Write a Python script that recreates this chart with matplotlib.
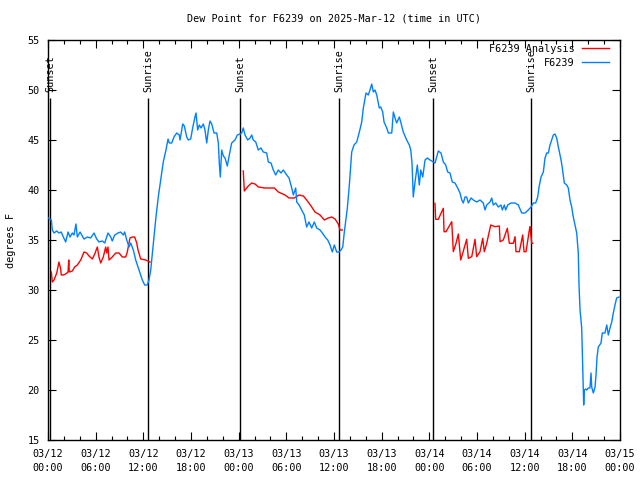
import numpy as np
import matplotlib
matplotlib.use("Agg")
import matplotlib.pyplot as plt
from matplotlib.ticker import MultipleLocator

# hours since 2025-03-12 00:00 UTC
blue_t = [0.00,0.42,0.54,0.76,1.10,1.38,1.67,1.93,2.23,2.52,2.77,3.06,3.27,3.52,3.69,4.03,4.32,4.53,4.95,5.37,
          5.79,6.13,6.42,6.84,7.14,7.55,7.89,8.09,8.40,8.81,9.15,9.48,9.65,9.91,10.20,10.41,10.74,11.04,11.45,11.87,
          12.17,12.50,12.71,12.93,13.30,13.59,13.88,14.19,14.51,14.85,15.11,15.27,15.57,15.86,16.20,16.53,16.62,16.96,17.16,17.46,
          17.66,17.96,18.21,18.50,18.63,18.84,19.05,19.26,19.55,19.76,19.98,20.18,20.39,20.61,20.90,21.24,21.44,21.56,21.69,21.86,
          22.07,22.28,22.57,22.82,23.12,23.54,23.83,24.17,24.38,24.58,24.80,25.14,25.43,25.64,25.84,26.15,26.47,26.81,27.10,27.53,
          27.73,28.07,28.36,28.66,28.99,29.33,29.62,30.05,30.34,30.68,30.88,31.18,31.31,31.60,31.93,32.26,32.56,32.85,33.19,33.52,
          33.82,34.24,34.53,34.87,35.21,35.50,35.79,36.04,36.34,36.63,36.88,37.10,37.30,37.68,37.93,38.23,38.52,38.86,39.19,39.49,
          39.69,40.03,40.32,40.53,40.75,40.95,41.16,41.38,41.70,41.88,42.13,42.30,42.64,42.84,43.27,43.47,43.68,43.89,44.22,44.40,
          44.72,45.15,45.48,45.66,45.82,45.98,46.20,46.49,46.74,46.92,47.17,47.46,47.75,48.09,48.50,48.72,48.93,49.13,49.47,49.76,
          50.06,50.31,50.60,50.89,51.23,51.57,51.86,52.08,52.28,52.49,52.70,52.91,53.25,53.54,53.96,54.38,54.79,55.01,55.22,55.64,
          55.85,56.05,56.36,56.68,57.02,57.19,57.44,57.61,57.87,58.28,58.79,59.20,59.63,60.04,60.46,60.80,61.09,61.39,61.64,61.81,
          62.06,62.35,62.56,62.78,62.98,63.19,63.40,63.61,63.82,64.03,64.24,64.58,64.74,64.99,65.29,65.49,65.71,65.92,66.12,66.34,
          66.55,66.75,66.84,66.97,67.18,67.26,67.38,67.43,67.51,67.68,67.81,68.01,68.22,68.35,68.44,68.64,68.86,68.98,69.11,69.27,
          69.61,69.77,70.11,70.33,70.53,70.74,70.96,71.16,71.37,71.58,71.87]
blue_v = [37.2,37.0,36.0,35.7,35.9,35.7,35.8,35.3,34.8,35.8,35.3,35.7,35.5,36.6,35.3,35.8,35.4,35.1,35.3,35.2,
          35.7,35.1,34.8,34.9,34.7,35.7,35.3,34.9,35.5,35.7,35.8,35.5,35.8,35.0,34.3,34.7,34.0,33.0,32.0,31.0,
          30.5,30.5,31.0,32.0,35.0,37.3,39.3,41.0,42.8,44.0,45.1,44.7,44.7,45.3,45.7,45.5,45.0,46.6,46.4,45.3,
          45.0,45.1,46.2,47.3,47.7,46.0,46.5,46.2,46.6,46.0,44.7,46.0,46.9,46.6,45.7,45.7,44.7,42.7,41.3,44.0,
          43.4,43.2,42.4,43.5,44.7,45.0,45.5,45.6,45.7,46.2,45.5,45.0,45.2,45.5,45.0,44.8,44.0,44.2,43.8,43.7,
          42.8,42.7,42.0,41.5,42.0,41.7,42.0,41.5,41.2,40.2,39.5,40.2,38.8,38.5,38.0,37.5,36.3,36.8,36.2,36.8,
          36.2,36.0,35.7,35.3,35.0,34.5,33.8,34.5,33.8,33.8,34.0,34.3,35.8,38.2,40.5,43.8,44.5,44.8,45.8,46.8,
          48.2,49.7,49.5,50.0,50.6,49.8,50.0,49.5,48.2,48.3,47.8,46.8,46.2,45.7,45.7,47.8,47.2,46.7,47.3,46.8,
          45.8,45.0,44.5,44.0,42.7,39.3,40.8,42.5,40.5,42.0,41.3,43.0,43.2,43.0,42.8,42.7,43.3,43.9,43.7,42.8,
          42.5,41.8,41.7,40.8,40.7,40.2,39.7,39.0,38.7,39.3,39.3,38.7,39.2,39.0,38.8,39.0,38.7,38.0,38.5,38.8,
          39.2,38.5,38.7,38.3,38.5,38.0,38.5,38.0,38.5,38.7,38.7,38.5,37.7,37.7,38.0,38.3,38.7,38.7,39.3,40.3,
          41.3,41.8,43.2,43.7,43.7,44.5,45.0,45.5,45.6,45.2,44.3,43.0,42.2,40.7,40.5,40.2,39.0,38.3,37.3,36.5,
          35.7,33.7,30.5,28.0,26.2,23.7,20.3,18.5,20.0,20.1,20.0,20.2,20.2,21.7,20.3,19.7,20.3,21.5,23.3,24.3,
          24.7,25.7,25.7,26.5,25.5,26.2,26.8,27.7,28.5,29.2,29.3]

red_t1 = [0.42,0.54,0.76,1.10,1.38,1.60,1.67,1.93,2.23,2.52,2.61,2.68,3.06,3.36,3.69,4.12,4.53,4.87,5.16,5.58,
          5.88,6.21,6.42,6.63,6.96,7.26,7.39,7.55,7.68,8.09,8.52,8.94,9.35,9.78,9.98,10.32,10.61,10.91,11.17,11.33,
          11.67,12.30,12.84]
red_v1 = [31.8,30.8,31.0,31.7,32.8,32.1,31.5,31.5,31.6,31.8,33.0,31.8,31.9,32.3,32.5,33.0,33.8,33.7,33.4,33.1,
          33.6,34.3,33.3,32.7,33.3,34.3,33.7,34.3,33.0,33.3,33.7,33.7,33.3,33.3,33.8,35.2,35.3,35.3,34.7,34.0,
          33.1,33.0,32.8]
red_t2 = [24.58,24.71,25.21,25.64,26.06,26.47,27.32,28.49,28.99,29.83,30.34,31.00,31.60,32.14,32.56,33.11,33.61,34.24,
          34.78,35.28,35.71,36.13,36.54,36.76,37.04]
red_v2 = [41.9,39.9,40.4,40.7,40.6,40.3,40.2,40.2,39.8,39.5,39.2,39.2,39.5,39.4,39.0,38.4,37.8,37.5,
          37.0,37.2,37.3,37.1,36.6,36.0,36.0]
red_t3 = [48.71,48.80,49.13,49.76,49.85,50.10,50.82,51.02,51.36,51.65,51.95,52.20,52.70,52.91,53.34,53.75,53.96,54.38,
          54.72,54.92,55.22,55.73,56.27,56.81,56.90,57.31,57.82,58.07,58.57,58.79,58.91,59.33,59.75,59.92,60.17,60.59,
          60.67,60.89,61.01]
red_v3 = [38.67,37.07,37.07,38.17,35.83,35.83,36.83,33.83,34.67,35.6,33.0,33.67,35.07,33.17,33.33,35.07,33.33,33.83,
          35.17,33.83,34.67,36.5,36.33,36.4,34.83,35.0,36.17,34.67,34.67,35.33,33.83,33.83,35.5,33.83,33.83,36.0,
          36.33,34.67,34.67]

sun_t = [0.25, 12.59, 24.17, 36.63, 48.46, 60.80]
sun_lbl = ["Sunset", "Sunrise", "Sunset", "Sunrise", "Sunset", "Sunrise"]

xtick_pos = [0, 6, 12, 18, 24, 30, 36, 42, 48, 54, 60, 66, 72]
xtick_lbl = ["03/12\n00:00", "03/12\n06:00", "03/12\n12:00", "03/12\n18:00",
             "03/13\n00:00", "03/13\n06:00", "03/13\n12:00", "03/13\n18:00",
             "03/14\n00:00", "03/14\n06:00", "03/14\n12:00", "03/14\n18:00",
             "03/15\n00:00"]

FS = 7.3
plt.rcParams['font.family'] = ['DejaVu Sans Mono']
plt.rcParams['font.size'] = FS

fig = plt.figure(figsize=(6.4, 4.8), dpi=100)
ax = fig.add_axes([48/640, 1-440/480, 572/640, 400/480])

RED = '#ff0000'
BLUE = '#0080ff'

for t, l in zip(sun_t, sun_lbl):
    ax.vlines(t, 15, 49.2, color='black', lw=1.0, zorder=1)
    ax.text(t + 0.1, 49.75, l, rotation=90, ha='center', va='bottom', fontsize=FS)

for rt, rv in ((red_t1, red_v1), (red_t2, red_v2), (red_t3, red_v3)):
    ax.plot(rt, rv, color=RED, lw=1.0, zorder=2)
ax.plot([], [], color=RED, lw=1.0, label='F6239 Analysis')
ax.plot(blue_t, blue_v, color=BLUE, lw=1.0, zorder=3, label='F6239')

ax.set_xlim(0, 72)
ax.set_ylim(15, 55)
ax.set_xticks(xtick_pos)
ax.set_xticklabels(xtick_lbl, linespacing=1.45)
ax.xaxis.set_minor_locator(MultipleLocator(2))
ax.yaxis.set_major_locator(MultipleLocator(5))
ax.tick_params(which='major', direction='in', length=6, width=0.8, top=True, right=True, pad=6.5)
ax.tick_params(which='minor', direction='in', length=3, width=0.8, top=True, right=True)
ax.tick_params(axis='y', pad=6)
for s in ax.spines.values():
    s.set_linewidth(1.0)

ax.set_title('Dew Point for F6239 on 2025-Mar-12 (time in UTC)', fontsize=FS, pad=13)
ax.set_ylabel('degrees F', labelpad=8)

leg = ax.legend(loc='upper right', bbox_to_anchor=(1 - 8/572, 1 - 1/400), frameon=False,
                markerfirst=False, fontsize=FS,
                handlelength=2.7, handletextpad=0.7, labelspacing=0.35,
                borderaxespad=0.2, borderpad=0.1)
leg.set_zorder(5)

fig.savefig('out.png', dpi=100)
